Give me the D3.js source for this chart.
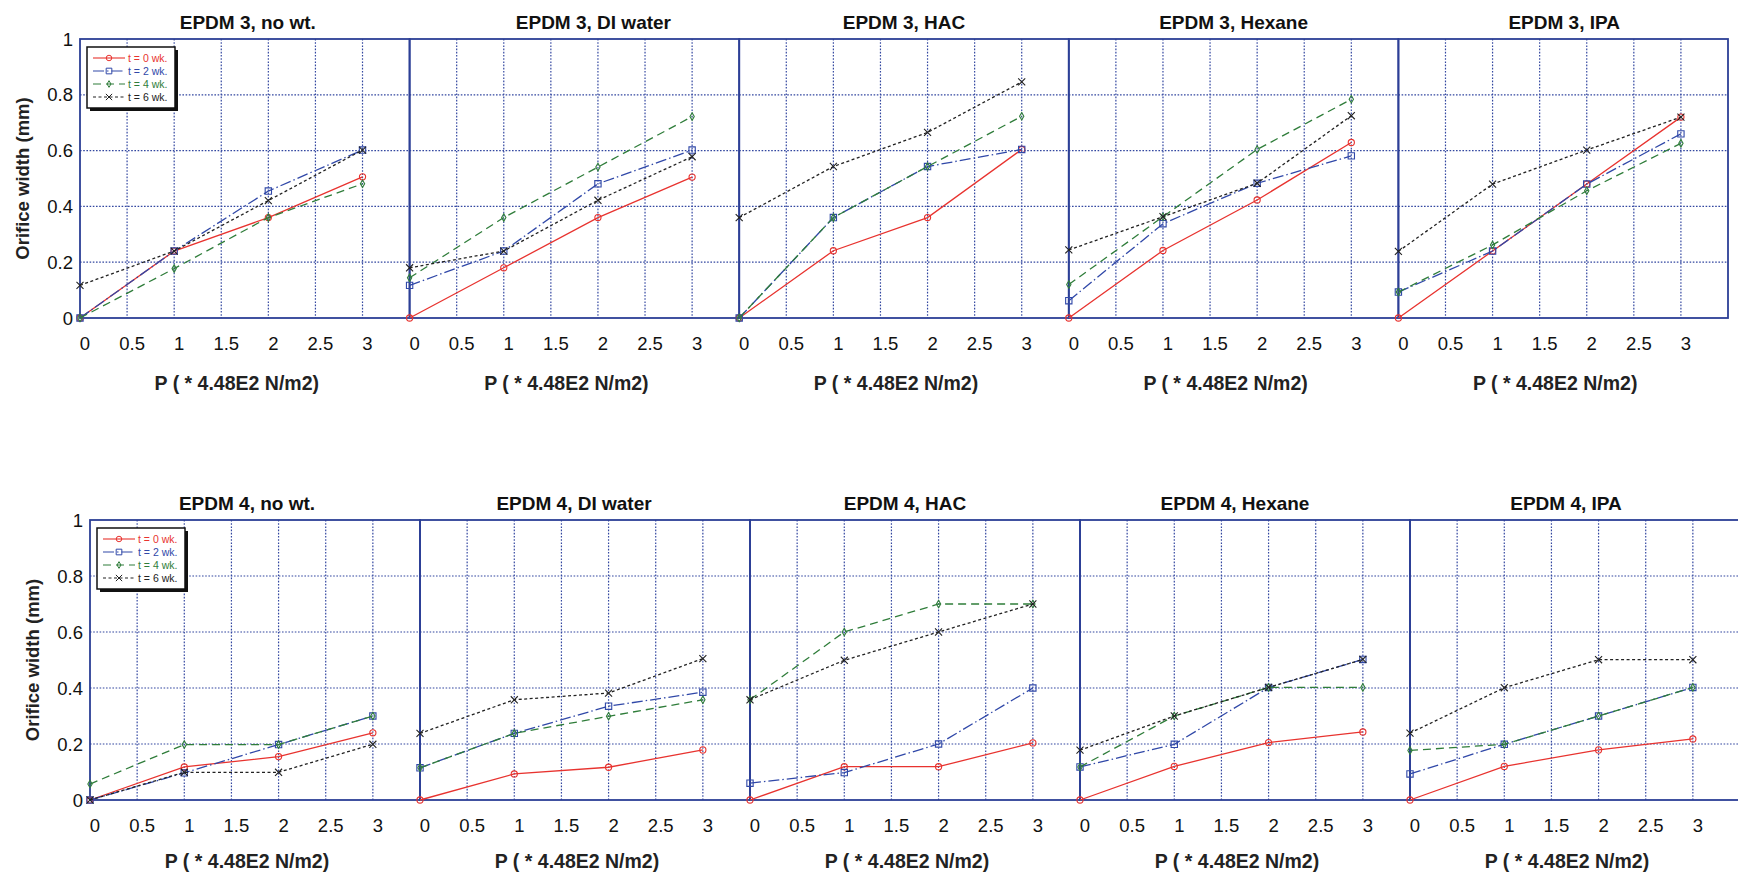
<!DOCTYPE html>
<html>
<head>
<meta charset="utf-8">
<script src="https://cdn.jsdelivr.net/npm/d3@7"></script>
<style>
  body { margin: 0; background: #fff; }
  svg { display: block; font-family: 'Liberation Sans', Arial, sans-serif; }
</style>
</head>
<body>
<div id="mount"></div>
<script>
'use strict';

// pressure steps (* 4.48E2 N/m2) and the soak times
const pressures = [0, 1, 2, 3];
const weeks = ['t = 0 wk.', 't = 2 wk.', 't = 4 wk.', 't = 6 wk.'];
const materials = ['EPDM 3', 'EPDM 4'];
const solvents = ['no wt.', 'DI water', 'HAC', 'Hexane', 'IPA'];
const xTicks = [0, 0.5, 1, 1.5, 2, 2.5, 3];
const yTicks = [0, 0.2, 0.4, 0.6, 0.8, 1];

// orifice width (mm), one row per soak time: t = 0, 2, 4, 6 wk.
const epdm3NoWt = [
  [0, 0.24, 0.36, 0.506],
  [0, 0.24, 0.455, 0.602],
  [0, 0.177, 0.36, 0.481],
  [0.117, 0.24, 0.421, 0.602]
];
const epdm3DiWater = [
  [0, 0.18, 0.36, 0.505],
  [0.117, 0.24, 0.481, 0.602],
  [0.144, 0.36, 0.541, 0.722],
  [0.18, 0.24, 0.422, 0.578]
];
const epdm3Hac = [
  [0, 0.241, 0.36, 0.604],
  [0, 0.36, 0.543, 0.604],
  [0, 0.36, 0.543, 0.723],
  [0.36, 0.543, 0.665, 0.846]
];
const epdm3Hexane = [
  [0, 0.242, 0.423, 0.629],
  [0.062, 0.338, 0.483, 0.581],
  [0.12, 0.363, 0.604, 0.784],
  [0.244, 0.363, 0.483, 0.725]
];
const epdm3Ipa = [
  [0, 0.24, 0.48, 0.72],
  [0.093, 0.24, 0.48, 0.66],
  [0.093, 0.262, 0.456, 0.626],
  [0.239, 0.48, 0.602, 0.72]
];
const epdm4NoWt = [
  [0, 0.118, 0.155, 0.24],
  [0, 0.097, 0.198, 0.3],
  [0.057, 0.198, 0.198, 0.3],
  [0, 0.099, 0.099, 0.199]
];
const epdm4DiWater = [
  [0, 0.093, 0.117, 0.179],
  [0.115, 0.238, 0.335, 0.385],
  [0.115, 0.238, 0.299, 0.358],
  [0.238, 0.358, 0.382, 0.505]
];
const epdm4Hac = [
  [0, 0.119, 0.119, 0.204],
  [0.06, 0.098, 0.2, 0.4],
  [0.358, 0.6, 0.7, 0.7],
  [0.358, 0.499, 0.6, 0.7]
];
const epdm4Hexane = [
  [0, 0.12, 0.205, 0.243],
  [0.118, 0.199, 0.402, 0.502],
  [0.118, 0.3, 0.402, 0.402],
  [0.178, 0.3, 0.402, 0.502]
];
const epdm4Ipa = [
  [0, 0.12, 0.179, 0.218],
  [0.093, 0.199, 0.3, 0.402],
  [0.177, 0.199, 0.3, 0.402],
  [0.239, 0.401, 0.501, 0.501]
];

const tables = [
  [epdm3NoWt, epdm3DiWater, epdm3Hac, epdm3Hexane, epdm3Ipa],
  [epdm4NoWt, epdm4DiWater, epdm4Hac, epdm4Hexane, epdm4Ipa]
];

// look of each soak-time series
const seriesStyle = [
  { color: '#e8332f', dash: null,          symbol: d3.symbolCircle,  size: 30, fill: 'none' },
  { color: '#3048a8', dash: '11,3,1.5,3',  symbol: d3.symbolSquare,  size: 40, fill: 'none' },
  { color: '#2f7d3a', dash: '8,5',         symbol: d3.symbolDiamond, size: 16, fill: 'none' },
  { color: '#222222', dash: '3,2.5',       symbol: d3.symbolX || d3.symbolCross, size: 34, fill: 'none' }
];

const W = 1738, H = 876;
const gridColor = '#3347a0';
const boxColor = '#2c3f96';

// one row of panels per material
const rows = [
  { left: 80, top: 39, bottom: 318, panelW: 329.6, titleY: 29, labelY: 390, titleDx: [3, 19, 0, 0, 1] },
  { left: 90, top: 520, bottom: 800, panelW: 330, titleY: 510, labelY: 868, titleDx: [-8, -11, -10, -10, -9] }
];

const svg = d3.select('#mount').append('svg')
    .attr('width', W)
    .attr('height', H);

rows.forEach((row, r) => {
  const y = d3.scaleLinear().domain([0, 1]).range([row.bottom, row.top]);

  solvents.forEach((solvent, p) => {
    const x0 = row.left + p * row.panelW;
    const x = d3.scaleLinear().domain([0, 3.5]).range([x0, x0 + row.panelW]);
    const g = svg.append('g');

    // dotted grid
    g.selectAll('.vgrid')
        .data(xTicks.slice(1))
      .enter().append('line')
        .attr('x1', d => x(d)).attr('x2', d => x(d))
        .attr('y1', row.top).attr('y2', row.bottom)
        .attr('stroke', gridColor)
        .attr('stroke-width', 1.2)
        .attr('stroke-dasharray', '1.6,1.6');

    g.selectAll('.hgrid')
        .data(yTicks.slice(1, -1))
      .enter().append('line')
        .attr('x1', x(0)).attr('x2', x(3.5))
        .attr('y1', d => y(d)).attr('y2', d => y(d))
        .attr('stroke', gridColor)
        .attr('stroke-width', 1.2)
        .attr('stroke-dasharray', '1.6,1.6');

    // axes box
    g.append('rect')
        .attr('x', x(0)).attr('y', row.top)
        .attr('width', x(3.5) - x(0))
        .attr('height', row.bottom - row.top)
        .attr('fill', 'none')
        .attr('stroke', boxColor)
        .attr('stroke-width', 1.8);

    // x tick labels
    g.selectAll('.xt')
        .data(xTicks)
      .enter().append('text')
        .attr('x', d => x(d) + 5)
        .attr('y', row.bottom + 32)
        .attr('text-anchor', 'middle')
        .attr('font-size', 18.5)
        .attr('fill', '#111')
        .text(d => d);

    // y tick labels only on the first panel of a row
    if (p === 0) {
      g.selectAll('.yt')
          .data(yTicks)
        .enter().append('text')
          .attr('x', x(0) - 7)
          .attr('y', d => y(d))
          .attr('dy', '0.36em')
          .attr('text-anchor', 'end')
          .attr('font-size', 18.5)
          .attr('fill', '#111')
          .text(d => d);

      g.append('text')
          .attr('transform', `translate(${x(0) - 51},${(row.top + row.bottom) / 2}) rotate(-90)`)
          .attr('text-anchor', 'middle')
          .attr('font-size', 18.5)
          .attr('font-weight', 'bold')
          .attr('fill', '#222')
          .text('Orifice width (mm)');
    }

    // title and x label
    g.append('text')
        .attr('x', (x(0) + x(3.5)) / 2 + row.titleDx[p])
        .attr('y', row.titleY)
        .attr('text-anchor', 'middle')
        .attr('font-size', 19)
        .attr('font-weight', 'bold')
        .attr('fill', '#111')
        .text(`${materials[r]}, ${solvent}`);

    g.append('text')
        .attr('x', (x(0) + x(3.5)) / 2 - 8)
        .attr('y', row.labelY)
        .attr('text-anchor', 'middle')
        .attr('font-size', 19.5)
        .attr('font-weight', 'bold')
        .attr('fill', '#222')
        .text('P ( * 4.48E2 N/m2)');

    // series lines and markers
    const line = d3.line()
        .x((d, i) => x(pressures[i]))
        .y(d => y(d));

    tables[r][p].forEach((vals, s) => {
      const st = seriesStyle[s];
      g.append('path')
          .datum(vals)
          .attr('d', line)
          .attr('fill', 'none')
          .attr('stroke', st.color)
          .attr('stroke-width', 1.3)
          .attr('stroke-dasharray', st.dash);

      g.selectAll(null)
          .data(vals)
        .enter().append('path')
          .attr('transform', (d, i) => `translate(${x(pressures[i])},${y(d)})`)
          .attr('d', d3.symbol().type(st.symbol).size(st.size))
          .attr('fill', st.fill)
          .attr('stroke', st.color)
          .attr('stroke-width', 1.1);
    });

    // legend in the first panel of a row
    if (p === 0) {
      const lx = x(0) + 7, ly = row.top + 8, lw = 88, lh = 61;
      const lg = g.append('g').attr('transform', `translate(${lx},${ly})`);
      lg.append('rect')
          .attr('x', 3).attr('y', 3)
          .attr('width', lw).attr('height', lh)
          .attr('fill', '#111');
      lg.append('rect')
          .attr('width', lw).attr('height', lh)
          .attr('fill', '#fff')
          .attr('stroke', '#111')
          .attr('stroke-width', 1.5);

      weeks.forEach((label, s) => {
        const st = seriesStyle[s];
        const yy = 11 + s * 13;
        lg.append('line')
            .attr('x1', 6).attr('x2', 38)
            .attr('y1', yy).attr('y2', yy)
            .attr('stroke', st.color)
            .attr('stroke-width', 1.1)
            .attr('stroke-dasharray', st.dash);
        lg.append('path')
            .attr('transform', `translate(22,${yy})`)
            .attr('d', d3.symbol().type(st.symbol).size(st.size * 0.8))
            .attr('fill', 'none')
            .attr('stroke', st.color)
            .attr('stroke-width', 1);
        lg.append('text')
            .attr('x', 41)
            .attr('y', yy)
            .attr('dy', '0.36em')
            .attr('font-size', 10.5)
            .attr('fill', st.color)
            .text(label);
      });
    }
  });
});
</script>
</body>
</html>
